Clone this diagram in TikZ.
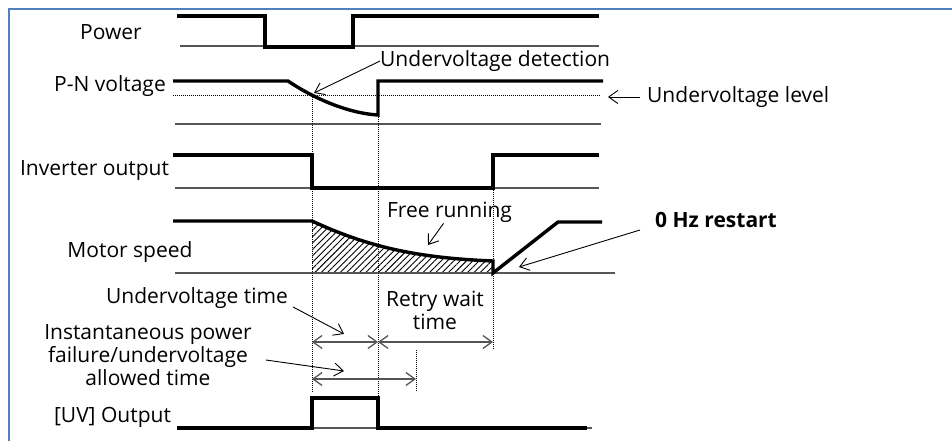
\documentclass[tikz,border=0pt]{standalone}
\usepackage{fontspec}
\setmainfont{Open Sans}
\usetikzlibrary{arrows.meta,patterns.meta,calc}
\definecolor{frameblue}{HTML}{4F81BD}
\definecolor{basegray}{HTML}{555555}
\begin{document}
\begin{tikzpicture}[x=1pt,y=-1pt,
  sig/.style={line width=3.4pt},
  base/.style={line width=1.3pt, draw=basegray},
  guide/.style={line width=0.8pt, dash pattern=on 1pt off 1pt},
  barb/.tip={Straight Barb[length=9pt,width=13pt]},
  dimline/.style={line width=1.3pt, draw=basegray, barb-barb},
  callout/.style={line width=0.9pt, -barb},
  lbl/.style={font=\fontsize{21}{23}\selectfont, inner sep=0pt, align=center}
]
\useasboundingbox (0,0) rectangle (952,441);
% frame
\draw[frameblue, line width=2pt] (8.5,441) -- (8.5,9.3) -- (952,9.3);

% Power
\draw[base] (180,46) -- (599,46);
\draw[sig] (177,16) -- (265,16) -- (265,47) -- (353,47) -- (353,16) -- (599,16);

% P-N voltage
\draw[guide] (173,95) -- (600,95);
\draw[base] (175,124) -- (601,124);
\draw[sig] (173,81) -- (288,81) .. controls (310,96) and (345,113) .. (378,115) -- (378,81) -- (603,81);

% Inverter output
\draw[base] (175,188) -- (599,188);
\draw[sig] (173,155) -- (312,155) -- (312,188) -- (493,188) -- (493,155) -- (599,155);

% Motor speed
\fill[pattern={Lines[angle=45,distance=4.5pt,line width=0.9pt]}] (312,221) .. controls (370,248) and (420,258) .. (493,261) -- (493,273) -- (312,273) -- cycle;
\draw[base] (175,273) -- (615,273);
\draw[sig] (173,221) -- (312,221) .. controls (370,248) and (420,258) .. (493,261) -- (493,273) -- (558,222) -- (602,222);

% UV output
\draw[base] (177,428) -- (592,428);
\draw[sig] (177,428) -- (312,428) -- (312,398) -- (378,398) -- (378,428) -- (587,428);

% guides
\draw[guide] (312,95) -- (312,393);
\draw[guide] (378,115) -- (378,398);
\draw[guide] (493,188) -- (493,350);
\draw[guide] (416,350) -- (416,392);

% dimension lines
\coordinate (d1a) at (312,342);
\coordinate (d1b) at (378,342);
\coordinate (d1c) at (493,342);
\coordinate (d2a) at (312,379);
\coordinate (d2b) at (416,379);
\draw[dimline] (d1a) -- (d1b);
\draw[dimline] (d1b) -- (d1c);
\draw[dimline] (d2a) -- (d2b);

% labels
\node[lbl] (power) at (111,32) {Power};
\node[lbl] (pn) at (110,86) {P-N voltage};
\node[lbl] (inv) at (94.5,171) {Inverter output};
\node[lbl] (motor) at (130,252) {Motor speed};
\node[lbl] (uv) at (112.5,417) {[UV] Output};
\node[lbl, anchor=west] (uvdet) at (380,61) {Undervoltage detection};
\node[lbl, anchor=west] (uvlev) at (647,97) {Undervoltage level};
\node[lbl] (free) at (449.5,212) {Free running};
\node[lbl, anchor=west, font=\fontsize{21}{23}\selectfont\bfseries] (restart) at (655,220) {0 Hz restart};
\node[lbl] (uvtime) at (197,298) {Undervoltage time};
\node[lbl] (retry) at (435,310) {Retry wait\\time};
\node[lbl] (ipf) at (148,355) {Instantaneous power\\failure/undervoltage\\allowed time};

% target coordinates
\coordinate (tdet) at (314,93);
\coordinate (tlev) at (608,97);
\coordinate (tfree) at (428,245);
\coordinate (trest) at (519,267);
\coordinate (tuvt) at (344,334);
\coordinate (tipf) at (344,371);

% callouts
\draw[callout] (uvdet.west) -- (tdet);
\draw[callout] ($(uvlev.west)+(-7,0)$) -- (tlev);
\draw[callout] ($(free.south)+(-6,1)$) -- (tfree);
\draw[callout] ($(restart.west)+(-15,10)$) -- (trest);
\draw[callout] ($(uvtime.east)+(5,9)$) -- (tuvt);
\draw[callout] ($(ipf.east)+(14,5)$) -- (tipf);
\end{tikzpicture}
\end{document}
